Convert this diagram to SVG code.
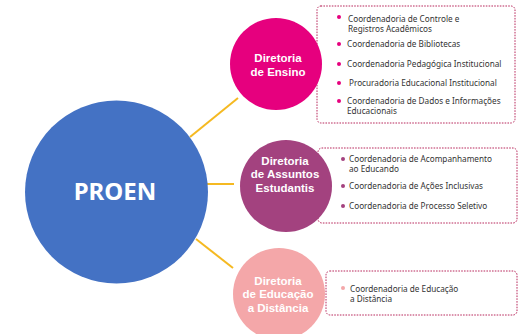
<svg xmlns="http://www.w3.org/2000/svg" width="518" height="334" viewBox="0 0 518 334">
<style>
.lbl{font-family:"Noto Sans","Open Sans",sans-serif;font-size:8.2px;fill:#333}
.dir{font-family:"Liberation Sans",Arial,sans-serif;font-weight:bold;font-size:11.5px;fill:#fff;text-anchor:middle}
.box{fill:#fff;stroke:#b8285c;stroke-width:1;stroke-dasharray:0.8 2;stroke-linecap:round}
.con{stroke:#f5b921;stroke-width:2;fill:none}
</style>
<rect width="518" height="334" fill="#fff"/>
<g id="connectors">
<line class="con" x1="190" y1="137" x2="238" y2="98"/>
<line class="con" x1="207" y1="184" x2="234" y2="184"/>
<line class="con" x1="196" y1="239" x2="233" y2="268"/>
</g>
<g id="box-ensino">
<rect class="box" x="317" y="6" width="198" height="117" rx="4"/>
<g fill="#e6007e">
<circle cx="339" cy="17" r="2"/><circle cx="339" cy="44" r="2"/><circle cx="339" cy="64" r="2"/><circle cx="339" cy="83" r="2"/><circle cx="339" cy="101" r="2"/>
</g>
<text class="lbl" x="348" y="22">Coordenadoria de Controle e</text>
<text class="lbl" x="348" y="32">Registros Acadêmicos</text>
<text class="lbl" x="347" y="47">Coordenadoria de Bibliotecas</text>
<text class="lbl" x="347" y="67">Coordenadoria Pedagógica Institucional</text>
<text class="lbl" x="349" y="86">Procuradoria Educacional Institucional</text>
<text class="lbl" x="347" y="104">Coordenadoria de Dados e Informações</text>
<text class="lbl" x="347" y="114">Educacionais</text>
</g>
<g id="box-assuntos">
<rect class="box" x="318" y="148" width="199" height="75" rx="4"/>
<g fill="#a3427f">
<circle cx="343" cy="159" r="2"/><circle cx="343" cy="186" r="2"/><circle cx="343" cy="206" r="2"/>
</g>
<text class="lbl" x="349" y="162">Coordenadoria de Acompanhamento</text>
<text class="lbl" x="349" y="172">ao Educando</text>
<text class="lbl" x="349" y="189">Coordenadoria de Ações Inclusivas</text>
<text class="lbl" x="349" y="209">Coordenadoria de Processo Seletivo</text>
</g>
<g id="box-ead">
<rect class="box" x="326" y="271" width="191" height="44" rx="4"/>
<circle cx="343" cy="288" r="2" fill="#f4a7a9"/>
<text class="lbl" x="350" y="292">Coordenadoria de Educação</text>
<text class="lbl" x="350" y="302">a Distância</text>
</g>
<g id="proen">
<circle cx="116.5" cy="192" r="91.5" fill="#4472c4"/>
<text x="115" y="200" font-family="Noto Sans,sans-serif" font-weight="bold" font-size="24" fill="#fff" text-anchor="middle">PROEN</text>
</g>
<g id="diretoria-ensino">
<circle cx="276" cy="64" r="46" fill="#e6007e"/>
<text class="dir" x="278" y="62">Diretoria</text>
<text class="dir" x="278" y="75.5">de Ensino</text>
</g>
<g id="diretoria-assuntos">
<circle cx="286" cy="186" r="46" fill="#a3427f"/>
<text class="dir" x="285" y="164.5">Diretoria</text>
<text class="dir" x="285" y="178">de Assuntos</text>
<text class="dir" x="285" y="191.5">Estudantis</text>
</g>
<g id="diretoria-ead">
<circle cx="279" cy="294" r="46" fill="#f4a7a9"/>
<text class="dir" x="278" y="284.5">Diretoria</text>
<text class="dir" x="278" y="298">de Educação</text>
<text class="dir" x="278" y="311.5">a Distância</text>
</g>
</svg>
